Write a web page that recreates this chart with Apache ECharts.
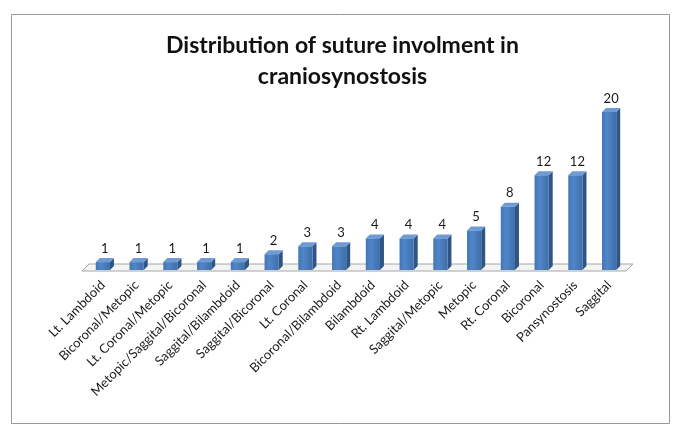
<!DOCTYPE html>
<html>
<head>
<meta charset="utf-8">
<script src="https://cdn.jsdelivr.net/npm/echarts@6/dist/echarts.min.js"></script>
<style>
html,body{margin:0;padding:0;background:#fff;}
#c{width:685px;height:440px;}
</style>
</head>
<body>
<div id="c"></div>
<script>
const categories = ["Lt. Lambdoid","Bicoronal/Metopic","Lt. Coronal/Metopic","Metopic/Saggital/Bicoronal","Saggital/Bilambdoid","Saggital/Bicoronal","Lt. Coronal","Bicoronal/Bilambdoid","Bilambdoid","Rt. Lambdoid","Saggital/Metopic","Metopic","Rt. Coronal","Bicoronal","Pansynostosis","Saggital"];
const values = [1,1,1,1,1,2,3,3,4,4,4,5,8,12,12,20];
const titleText = "Distribution of suture involment in\ncraniosynostosis";

const chart = echarts.init(document.getElementById('c'), null, {renderer:'canvas'});
const D = 4; // 3D depth

function renderBar(params, api){
  const idx = api.value(0), v = api.value(1);
  const top = api.coord([idx, v]);
  const bot = api.coord([idx, 0]);
  const bw = api.size([1,0])[0];
  const w = bw * 0.42;
  const x0 = top[0] - w/2;
  const y0 = top[1];
  const y1 = bot[1];
  return {
    type:'group',
    children:[
      {type:'polygon', shape:{points:[[x0+w,y0],[x0+w+D,y0-D],[x0+w+D,y1-D],[x0+w,y1]]},
       style:{fill:'#2f5584'}},
      {type:'polygon', shape:{points:[[x0,y0],[x0+D,y0-D],[x0+w+D,y0-D],[x0+w,y0]]},
       style:{fill:'#6e9bd4'}},
      {type:'rect', shape:{x:x0, y:y0, width:w, height:y1-y0},
       style:{fill:new echarts.graphic.LinearGradient(0,0,1,0,[
         {offset:0,color:'#4175b6'},{offset:0.35,color:'#5086c8'},{offset:1,color:'#3f6eaa'}])}},
      {type:'text', style:{text:String(v), x:top[0]+D/2, y:y0-D-3, align:'center', verticalAlign:'bottom',
        font:'13px Lato', fill:'#1a1a1a'}}
    ]
  };
}

function renderFloor(params, api){
  const cs = params.coordSys;
  const yb = cs.y + cs.height;
  const xl = cs.x - 4, xr = cs.x + cs.width;
  const d = 7;
  return {
    type:'polygon',
    shape:{points:[[xl,yb+1],[xl+d,yb-6],[xr+d,yb-6],[xr,yb+1]]},
    style:{fill:'#f4f4f4', stroke:'#a6a6a6', lineWidth:1},
    z2:-1
  };
}

chart.setOption({
  animation:false,
  backgroundColor:'#fff',
  title:{
    text:titleText, left:'center', top:25,
    textStyle:{fontFamily:'Lato', fontWeight:'bold', fontSize:23, color:'#111', lineHeight:31}
  },
  graphic:[{type:'rect', shape:{x:11.5,y:14.5,width:658,height:409},
    style:{fill:null, stroke:'#9a9a9a', lineWidth:1}, z:-10}],
  grid:{left:86, right:59, top:112, bottom:170, containLabel:false},
  xAxis:{
    type:'category', data:categories,
    axisLine:{show:false}, axisTick:{show:false},
    axisLabel:{rotate:45, interval:0, margin:13, fontFamily:'Lato', fontSize:13, color:'#1a1a1a'}
  },
  yAxis:{type:'value', min:0, max:20, show:false, splitLine:{show:false}},
  series:[
    {type:'custom', renderItem:renderFloor, data:[0], z:1, silent:true},
    {type:'custom', renderItem:renderBar, data:values.map((v,i)=>[i,v]), encode:{x:0,y:1}, z:2}
  ]
});
</script>
</body>
</html>
